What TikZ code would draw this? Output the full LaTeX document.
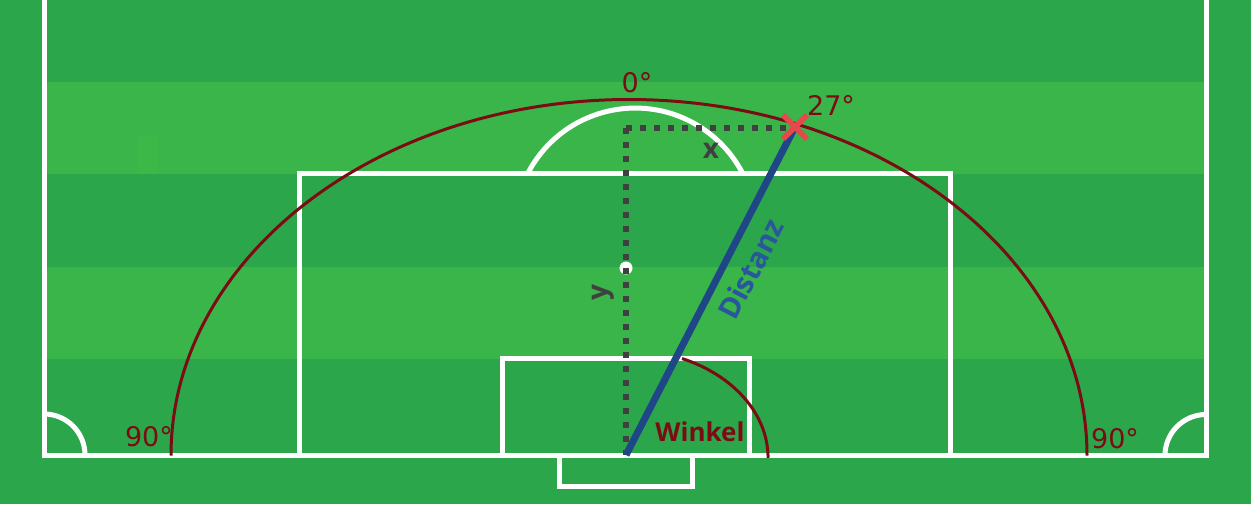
\documentclass[tikz,border=0pt]{standalone}
\usepackage{fontspec}
\usetikzlibrary{calc}
\newfontfamily\dvfont{DejaVu Sans}
\newfontfamily\osfont{Open Sans}
\definecolor{grassdark}{HTML}{2CA64A}
\definecolor{grasslight}{HTML}{3AB54A}
\definecolor{grassfaint}{HTML}{3CB849}
\definecolor{arcred}{HTML}{7B0C14}
\definecolor{shotblue}{HTML}{1F4788}
\definecolor{textblue}{HTML}{2A569E}
\definecolor{dotgray}{HTML}{404040}
\definecolor{markred}{HTML}{E8474C}
\tikzset{
  pitchline/.style={draw=white, line width=5pt},
  anglearc/.style={draw=arcred, line width=3pt},
  dotline/.style={draw=dotgray, line width=6pt, dash pattern=on 6pt off 8pt},
  shotline/.style={draw=shotblue, line width=7pt},
  marker/.style={draw=markred, line width=5.5pt},
  deglabel/.style={text=arcred, inner sep=0pt, font=\dvfont\fontsize{27}{27}\selectfont},
  boldlabel/.style={inner sep=0pt, font=\osfont\bfseries\fontsize{26}{26}\selectfont},
}
\begin{document}
\begin{tikzpicture}[x=1pt,y=-1pt]
\useasboundingbox (0,0) rectangle (1251,504);
% grass
\fill[grassdark] (0,0) rectangle (1251,504);
\fill[grasslight] (46,82) rectangle (1204,174);
\fill[grasslight] (46,267) rectangle (1204,359);
\fill[grassfaint] (138,136) rectangle (157,173);
% pitch lines
\draw[pitchline] (44,0) -- (44,455.5) -- (1206,455.5) -- (1206,0);
\draw[pitchline] (299.5,455.5) -- (299.5,173) -- (950,173) -- (950,455.5);
\draw[pitchline] (502,455.5) -- (502,358) -- (749,358) -- (749,455.5);
\draw[pitchline] (559,455.5) -- (559,486.5) -- (692,486.5) -- (692,455.5);
\draw[pitchline] (528,173) arc[start angle=207.6, end angle=332.4, radius=121];
\draw[pitchline] (44,414) arc[start angle=270, end angle=360, radius=41];
\draw[pitchline] (1165,455.5) arc[start angle=180, end angle=270, radius=41];
\fill[white] (626,268) circle[radius=6.5];
% angle arcs
\draw[anglearc] (171,455.5) arc[start angle=180, end angle=360, x radius=458, y radius=356];
\draw[anglearc] (682,358.5) arc[start angle=293.2, end angle=360, x radius=142, y radius=108];
% coordinates
\coordinate (goal) at (626,455);
\coordinate (corner) at (626,128);
\coordinate (shotx) at (795,128);
\coordinate (shot) at (795,127);
% dotted x/y
\draw[dotline] (corner) -- (goal);
\draw[dotline] (corner) -- (shotx);
% shot line
\draw[shotline] (goal) -- (shot);
% marker
\draw[marker] ($(shot)+(-12,-12)$) -- ($(shot)+(12,12)$);
\draw[marker] ($(shot)+(-12,12)$) -- ($(shot)+(12,-12)$);
% labels
\node[deglabel] (deg0) at (637,83) {0°};
\node[deglabel] (deg27) at (831,105) {27°};
\node[deglabel] (deg90l) at (149,437) {90°};
\node[deglabel] (deg90r) at (1115,439) {90°};
\node[boldlabel, text=arcred] (winkel) at (700,432) {Winkel};
\node[boldlabel, text=dotgray, font=\osfont\bfseries\fontsize{28}{28}\selectfont] (xlab) at (711,151) {x};
\node[boldlabel, text=dotgray, rotate=90, font=\osfont\bfseries\fontsize{28}{28}\selectfont] (ylab) at (603,293) {y};
\node[boldlabel, text=textblue, rotate=62.7, font=\osfont\bfseries\fontsize{29}{29}\selectfont] (distanz) at (751,269) {Distanz};
\end{tikzpicture}
\end{document}
